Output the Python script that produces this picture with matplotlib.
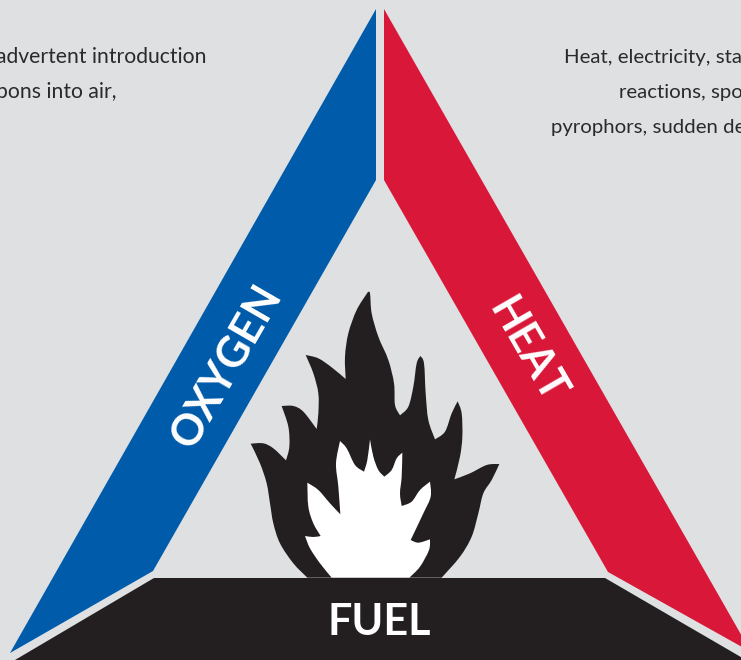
import matplotlib
matplotlib.use("Agg")
import matplotlib.pyplot as plt
from matplotlib.path import Path
from matplotlib.patches import PathPatch, Polygon

# outlines in picture pixels
oxygen_band = [(376, 9), (376, 180), (153, 571), (10, 653)]
heat_band = [(384, 9), (384, 180), (608, 572), (751, 652)]
fuel_band = [(154, 578), (605, 578), (746, 660), (15, 660)]

flame_outer = [
    [(232, 893), (190, 850), (150, 790), (130, 730), (120, 670), (110, 610), (90, 550), (62, 491)],
    [(62, 491), (100, 490), (130, 505), (168, 541)],
    [(168, 541), (178, 500), (175, 440), (155, 378)],
    [(155, 378), (190, 378), (220, 395), (260, 447)],
    [(260, 447), (265, 400), (265, 340), (250, 280), (227, 225)],
    [(227, 225), (265, 235), (305, 262), (347, 297)],
    [(347, 297), (345, 230), (355, 160), (380, 90), (413, 37)],
    [(413, 37), (420, 40), (425, 100), (445, 170), (475, 240), (492, 310), (495, 375), (510, 406)],
    [(510, 406), (535, 380), (550, 320), (560, 250), (571, 228)],
    [(571, 228), (582, 250), (587, 340), (595, 420), (615, 478)],
    [(615, 478), (645, 455), (665, 400), (683, 364)],
    [(683, 364), (695, 400), (697, 470), (690, 530), (673, 598)],
    [(673, 598), (720, 580), (770, 555), (808, 552)],
    [(808, 552), (785, 600), (760, 640), (745, 700), (725, 770), (690, 830), (635, 893)],
]
flame_inner = [
    [(305, 893), (270, 850), (240, 805), (225, 768)],
    [(225, 768), (250, 771), (272, 768)],
    [(272, 768), (250, 730), (235, 680), (232, 608)],
    [(232, 608), (265, 630), (300, 670), (331, 703)],
    [(331, 703), (325, 620), (318, 550), (330, 483)],
    [(330, 483), (350, 505), (375, 555), (402, 575)],
    [(402, 575), (412, 540), (420, 478)],
    [(420, 478), (430, 530), (445, 570), (463, 590)],
    [(463, 590), (485, 570), (500, 535), (517, 518)],
    [(517, 518), (515, 590), (510, 640), (515, 678)],
    [(515, 678), (545, 665), (570, 630), (600, 605)],
    [(600, 605), (602, 650), (580, 700), (542, 780)],
    [(542, 780), (565, 788), (600, 778)],
    [(600, 778), (597, 810), (570, 860), (538, 893)],
]

left_lines = ["advertent introduction", "pons into air,"]
right_lines = ["Heat, electricity, sta", "reactions, spo", "pyrophors, sudden de"]


def flame_path(runs):
    verts = []
    codes = []
    for run in runs:
        pts = [(230 + x / 3, 280 + y / 3) for x, y in run]
        if not verts:
            verts.append(pts[0])
            codes.append(Path.MOVETO)
        # catmull-rom so the curve goes through the read points, corners stay sharp
        for i in range(len(pts) - 1):
            p0 = pts[max(i - 1, 0)]
            p1 = pts[i]
            p2 = pts[i + 1]
            p3 = pts[min(i + 2, len(pts) - 1)]
            c1 = (p1[0] + (p2[0] - p0[0]) / 6, p1[1] + (p2[1] - p0[1]) / 6)
            c2 = (p2[0] - (p3[0] - p1[0]) / 6, p2[1] - (p3[1] - p1[1]) / 6)
            verts += [c1, c2, p2]
            codes += [Path.CURVE4] * 3
    verts.append(verts[0])
    codes.append(Path.CLOSEPOLY)
    return Path(verts, codes)


bg = "#dee0e2"
fig = plt.figure(figsize=(7.41, 6.6), dpi=100, facecolor=bg)
ax = fig.add_axes([0, 0, 1, 1])
ax.set_xlim(0, 741)
ax.set_ylim(660, 0)
ax.axis("off")

ax.add_patch(Polygon(oxygen_band, closed=True, fc="#005baa", ec="none"))
ax.add_patch(Polygon(heat_band, closed=True, fc="#d91839", ec="none"))
ax.add_patch(PathPatch(flame_path(flame_outer), fc="#231f20", ec="none"))
ax.add_patch(PathPatch(flame_path(flame_inner), fc="white", ec="none"))
ax.add_patch(Polygon(fuel_band, closed=True, fc="#231f20", ec="none"))

text_color = "#2b2a2b"
for line, x, y in zip(left_lines, [207, 117], [63, 98]):
    ax.text(x, y, line, ha="right", va="baseline", family="Lato", fontsize=15.2, color=text_color)
for line, x, y in zip(right_lines, [564, 619, 551], [63, 98, 133]):
    ax.text(x, y, line, ha="left", va="baseline", family="Lato", fontsize=14.7, color=text_color)

label_font = dict(family="Lato", fontweight="bold", color="white", ha="center",
                  va="center", rotation_mode="anchor", fontsize=31)
ax.text(226, 366, "OXYGEN", rotation=60, **label_font)
ax.text(527, 351, "HEAT", rotation=-60, **label_font)
ax.text(379.5, 622, "FUEL", **label_font)

fig.savefig("out.png", dpi=100, facecolor=bg)
